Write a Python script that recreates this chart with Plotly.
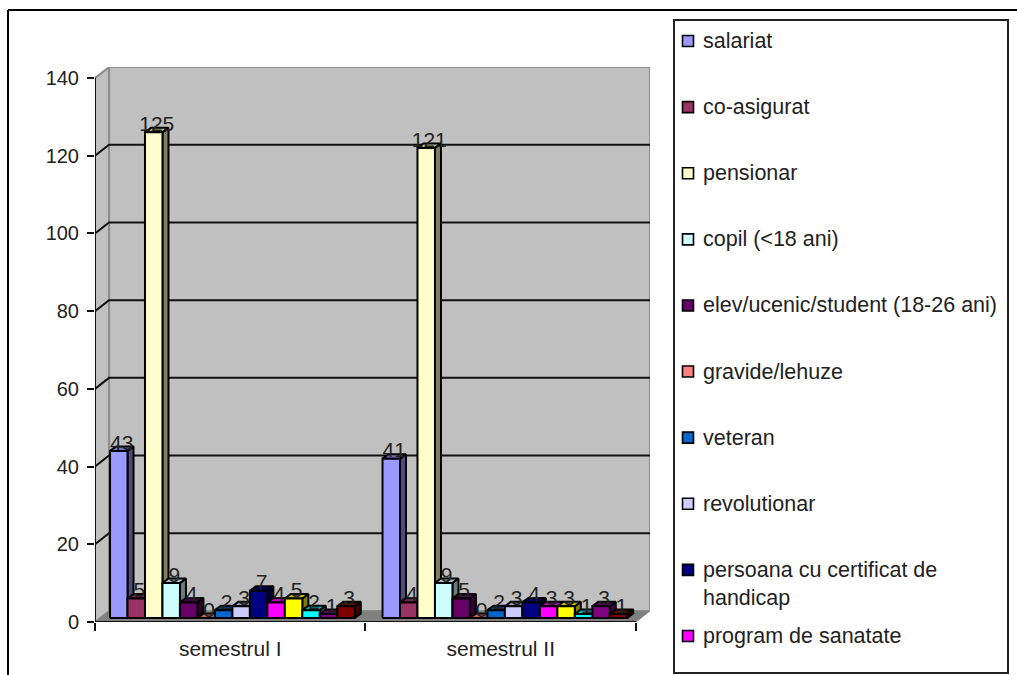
import plotly.graph_objects as go

categories = ["semestrul I", "semestrul II"]
legend_names = ["salariat", "co-asigurat", "pensionar", "copil (<18 ani)",
                "elev/ucenic/student (18-26 ani)", "gravide/lehuze", "veteran",
                "revolutionar", "persoana cu certificat de<br>handicap", "program de sanatate"]
colors = ["#9999FF", "#993366", "#FFFFCC", "#CCFFFF", "#660066", "#FF8080", "#0066CC",
          "#CCCCFF", "#000080", "#FF00FF", "#FFFF00", "#00FFFF", "#800080", "#800000"]
values_s1 = [43, 5, 125, 9, 4, 0, 2, 3, 7, 4, 5, 2, 1, 3]
values_s2 = [41, 4, 121, 9, 5, 0, 2, 3, 4, 3, 3, 1, 3, 1]
y_ticks = [0, 20, 40, 60, 80, 100, 120, 140]

W, H = 1017, 675
PX = 270.0       # px per category
PY = 3.886       # px per y unit
DX, DY = 14 / PX, 11 / PY     # plot depth
BW = 17.45 / PX  # bar width
BX, BY = 6 / PX, 4.5 / PY     # bar depth
BASE = 1.03
PAD = [15 / PX, 17 / PX]
TXT = "#222222"
FONT = "Liberation Sans"


def shade(c, f):
    return "#" + "".join(f"{int(int(c[i:i+2], 16) * f):02X}" for i in (1, 3, 5))


def poly(fig, xs, ys, fill, line="black", lw=2):
    fig.add_trace(go.Scatter(x=xs, y=ys, mode="lines", fill="toself", fillcolor=fill,
                             line=dict(color=line, width=lw), cliponaxis=False,
                             hoverinfo="skip", showlegend=False))


def line(fig, xs, ys, color="black", lw=2):
    fig.add_trace(go.Scatter(x=xs, y=ys, mode="lines", line=dict(color=color, width=lw),
                             cliponaxis=False, hoverinfo="skip", showlegend=False))


fig = go.Figure()
top = y_ticks[-1]
# walls and floor
poly(fig, [DX, 2 + DX, 2 + DX, DX, DX], [DY, DY, top + DY, top + DY, DY], "#C0C0C0", "#8C8C8C", 2)
poly(fig, [0, DX, DX, 0, 0], [0, DY, top + DY, top, 0], "#C0C0C0", "#8C8C8C", 2)
poly(fig, [0, 2, 2 + DX, DX, 0], [0, 0, DY, DY, 0], "#808080", "#8C8C8C", 1)
for t in y_ticks[1:-1]:
    line(fig, [0, DX, 2 + DX], [t, t + DY, t + DY], "#111111", 2)

# bars
all_vals = [values_s1, values_s2]
lx, ly, lt = [], [], []
for i, col in enumerate(colors):
    fx, fy, sx, sy, tx, ty = [], [], [], [], [], []
    for c, vals in enumerate(all_vals):
        v = vals[i]
        x0 = c + PAD[c] + i * BW
        x1 = x0 + BW
        yb, yt = BASE, BASE + v
        fx += [x0, x1, x1, x0, x0, None]
        fy += [yb, yb, yt, yt, yb, None]
        sx += [x1, x1 + BX, x1 + BX, x1, x1, None]
        sy += [yb, yb + BY, yt + BY, yt, yb, None]
        tx += [x0, x1, x1 + BX, x0 + BX, x0, None]
        ty += [yt, yt, yt + BY, yt + BY, yt, None]
        lx.append((x0 + x1 + BX) / 2)
        ly.append(yt - 1.0)
        lt.append(str(v))
    poly(fig, sx, sy, shade(col, 0.5))
    poly(fig, tx, ty, shade(col, 0.75))
    poly(fig, fx, fy, col)

# data labels above all bars
fig.add_trace(go.Scatter(x=lx, y=ly, mode="text", text=lt, textposition="top center",
                         textfont=dict(family=FONT, size=21, color=TXT), cliponaxis=False,
                         hoverinfo="skip", showlegend=False))

# axis lines
line(fig, [0, 0], [0, top], "#111111", 2)
line(fig, [0, 2], [0, 0], "#111111", 2)

# legend drawn on its own overlay axes
ly_pos = list(range(len(legend_names)))
fig.add_trace(go.Scatter(x=[14] * len(ly_pos), y=ly_pos, mode="markers", xaxis="x2", yaxis="y2",
                         marker=dict(symbol="square", size=11, color=colors[:len(ly_pos)],
                                     line=dict(color="black", width=1.6)),
                         cliponaxis=False, hoverinfo="skip", showlegend=False))
annotations = [dict(x=27, y=k, xref="x2", yref="y2", text=n, showarrow=False, xanchor="left",
                    yanchor="top", yshift=14, align="left",
                    font=dict(family=FONT, size=21.5, color=TXT))
               for k, n in zip(ly_pos, legend_names)]

shapes = [
    dict(type="line", xref="paper", yref="paper", x0=8 / W, x1=1, y0=1 - 10 / H, y1=1 - 10 / H,
         line=dict(color="black", width=2)),
    dict(type="line", xref="paper", yref="paper", x0=8 / W, x1=8 / W, y0=0, y1=1 - 10 / H,
         line=dict(color="black", width=2)),
    dict(type="rect", xref="paper", yref="paper", x0=674 / W, x1=1008 / W, y0=1 - 672 / H,
         y1=1 - 20 / H, line=dict(color="#222222", width=2)),
]

fig.update_layout(
    width=W, height=687, margin=dict(l=0, r=0, t=0, b=0), autosize=False,
    paper_bgcolor="white", plot_bgcolor="white", showlegend=False,
    font=dict(family=FONT, size=21, color=TXT),
    shapes=shapes, annotations=annotations,
    xaxis=dict(domain=[95 / W, 650 / W], range=[0, 2 + DX], tickmode="array",
               tickvals=[0.5, 1.5], ticktext=categories, ticks="", showgrid=False, zeroline=False,
               showline=False, ticklabelstandoff=12,
               tickfont=dict(family=FONT, size=21, color=TXT),
               minor=dict(tickmode="array", tickvals=[0, 1, 2], ticks="outside", ticklen=8,
                          tickwidth=2, tickcolor="#111111", showgrid=False)),
    yaxis=dict(domain=[1 - 621 / H, 1 - 67 / H], range=[0, top + DY], tickmode="array",
               tickvals=y_ticks, ticks="outside", ticklen=7, tickwidth=2, tickcolor="#111111",
               showgrid=False, zeroline=False, showline=False, ticklabelstandoff=4,
               tickfont=dict(family=FONT, size=20, color=TXT)),
    xaxis2=dict(domain=[674 / W, 1008 / W], range=[0, 334], visible=False, anchor="y2"),
    yaxis2=dict(domain=[1 - 672 / H, 1 - 20 / H], range=[(672 - 41) / 66, (20 - 41) / 66],
                visible=False, anchor="x2"),
)
post = "document.documentElement.style.margin='0';document.body.style.margin='0';document.body.style.overflow='hidden';"
fig.write_html("out.html", post_script=post, config={"displayModeBar": False})
